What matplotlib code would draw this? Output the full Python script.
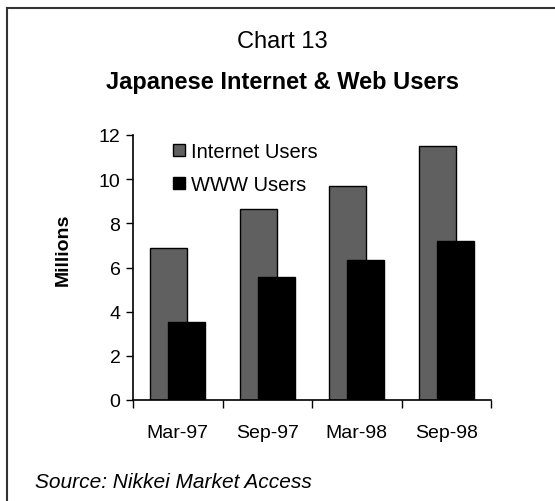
import matplotlib
matplotlib.use('Agg')
import matplotlib.pyplot as plt
from matplotlib.lines import Line2D

# Данные
periods = ['Mar-97', 'Sep-97', 'Mar-98', 'Sep-98']
internet_users = [6.9, 8.65, 9.7, 11.5]
www_users = [3.55, 5.55, 6.35, 7.2]

plt.rcParams['font.family'] = ['Liberation Sans', 'DejaVu Sans']

fig = plt.figure(figsize=(5.55, 5.02), dpi=100)
ax = fig.add_axes([133 / 555, 101 / 502, 358 / 555, 265 / 502])

centers = [i + 0.5 for i in range(len(periods))]
w = 0.41
g = ax.bar([c - 0.1 for c in centers], internet_users, width=w,
           color='#606060', edgecolor='black', linewidth=1, label='Internet Users')
b = ax.bar([c + 0.1 for c in centers], www_users, width=w,
           color='black', edgecolor='black', linewidth=1, label='WWW Users')

ax.set_xlim(0, 4)
ax.set_ylim(0, 12)
ax.set_yticks(range(0, 13, 2))
ax.set_xticks(range(0, 5))
ax.set_xticklabels([])
ax.set_xticks(centers, minor=True)
ax.set_xticklabels(periods, minor=True)
ax.tick_params(axis='x', which='major', length=6, width=1, direction='out')
ax.tick_params(axis='x', which='minor', length=0, pad=17, labelsize=14)
ax.tick_params(axis='y', length=5, width=1, labelsize=14, pad=4)

for s in ['top', 'right']:
    ax.spines[s].set_visible(False)
for s in ['left', 'bottom']:
    ax.spines[s].set_linewidth(1.2)

ax.set_ylabel('Millions', fontsize=14, fontweight='bold')
ax.yaxis.set_label_coords(-0.17, 0.57)

ax.legend(handles=[g, b], loc='upper left', bbox_to_anchor=(163 / 555, 1 - 133 / 502),
          bbox_transform=fig.transFigure, frameon=False, fontsize=14.5,
          handlelength=0.6, handleheight=0.6, handletextpad=0.3,
          labelspacing=0.7, borderpad=0)

fig.text(282 / 555, 1 - 42 / 502, 'Chart 13', ha='center', va='center', fontsize=17)
fig.text(282 / 555, 1 - 83 / 502, 'Japanese Internet & Web Users', ha='center',
         va='center', fontsize=17, fontweight='bold')
fig.text(35 / 555, 1 - 483 / 502, 'Source: Nikkei Market Access', ha='left',
         va='center', fontsize=15, style='italic')

# рамка
fig.add_artist(Line2D([7 / 555, 7 / 555], [0, 1 - 9 / 502], color='#333333',
                      linewidth=1.5, transform=fig.transFigure))
fig.add_artist(Line2D([7 / 555, 1], [1 - 9 / 502, 1 - 9 / 502], color='#333333',
                      linewidth=1.5, transform=fig.transFigure))

fig.savefig('out.png', dpi=100)
